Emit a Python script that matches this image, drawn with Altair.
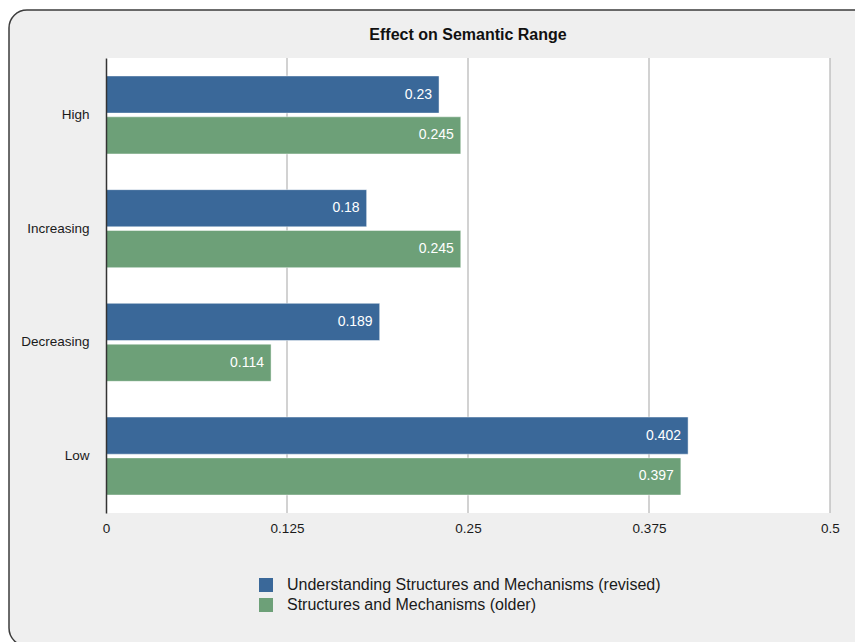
import altair as alt
import pandas as pd

categories = ["High", "Increasing", "Decreasing", "Low"]
series = ["Understanding Structures and Mechanisms (revised)", "Structures and Mechanisms (older)"]
revised = [0.23, 0.18, 0.189, 0.402]
older = [0.245, 0.245, 0.114, 0.397]
x_ticks = [0, 0.125, 0.25, 0.375, 0.5]
colors = ["#3a6899", "#6da078"]

rows = []
for c, a, b in zip(categories, revised, older):
    rows.append({"category": c, "series": series[0], "value": a})
    rows.append({"category": c, "series": series[1], "value": b})
df = pd.DataFrame(rows)

FONT = "Liberation Sans"
W, H = 724, 455

xscale = alt.Scale(domain=[0, 0.5], nice=False, zero=True)
yscale = alt.Scale(paddingInner=0.314, paddingOuter=0.158)
yoff_scale = alt.Scale(paddingInner=0.09, paddingOuter=0)

one = pd.DataFrame({"a": [0]})

bg = alt.Chart(one).mark_rect(
    fill="#efefef", stroke="#3c3c3c", strokeWidth=1.5, cornerRadius=18
).encode(
    x=alt.value(-97), x2=alt.value(770), y=alt.value(-48), y2=alt.value(588)
)

plot_bg = alt.Chart(one).mark_rect(fill="white").encode(
    x=alt.datum(0, scale=xscale), x2=alt.datum(0.5), y=alt.value(0), y2=alt.value(H)
)

grid = alt.Chart(pd.DataFrame({"v": x_ticks[1:]})).mark_rule(
    color="#b4b4b4", strokeWidth=1.2
).encode(x=alt.X("v:Q", scale=xscale))

bars = alt.Chart(df).mark_bar(stroke="white", strokeOpacity=0.45, strokeWidth=1).encode(
    x=alt.X("value:Q", scale=xscale, title=None,
            axis=alt.Axis(values=x_ticks, format=".3~f", grid=False, domain=False,
                          ticks=False, labelPadding=8, labelFontSize=13.5, labelFont=FONT,
                          labelColor="#1a1a1a", labelFlush=False, zindex=1)),
    y=alt.Y("category:N", sort=categories, scale=yscale, title=None,
            axis=alt.Axis(ticks=False, domainColor="#333", domainWidth=1.5, labelPadding=17,
                          labelFontSize=13.5, labelFont=FONT, labelColor="#1a1a1a", grid=False,
                          zindex=1)),
    yOffset=alt.YOffset("series:N", sort=series, scale=yoff_scale),
    color=alt.Color("series:N", sort=series,
                    scale=alt.Scale(domain=series, range=colors),
                    legend=alt.Legend(orient="none", legendX=152, legendY=519, title=None,
                                      symbolType="square", symbolSize=196, symbolStrokeWidth=0,
                                      labelFontSize=16, labelFont=FONT, labelColor="#1a1a1a",
                                      labelLimit=0, rowPadding=4, labelOffset=13, padding=0)),
)

labels = alt.Chart(df).mark_text(
    align="right", baseline="middle", dx=-7, color="white", fontSize=14, font=FONT
).encode(
    x=alt.X("value:Q", scale=xscale),
    y=alt.Y("category:N", sort=categories, scale=yscale),
    yOffset=alt.YOffset("series:N", sort=series, scale=yoff_scale),
    text=alt.Text("value:Q", format=".3~f"),
)

chart = alt.layer(bg, plot_bg, grid, bars, labels).properties(
    width=W, height=H,
    padding={"left": 106, "top": 58, "right": 25, "bottom": 129},
    autosize=alt.AutoSizeParams(type="none"),
    title=alt.TitleParams("Effect on Semantic Range", anchor="middle", frame="group",
                          fontSize=16, fontWeight="bold", font=FONT, color="#111", offset=-34),
    background="white",
).configure_view(stroke=None)

chart.save("out.html", embed_options={"renderer": "svg", "actions": False})
